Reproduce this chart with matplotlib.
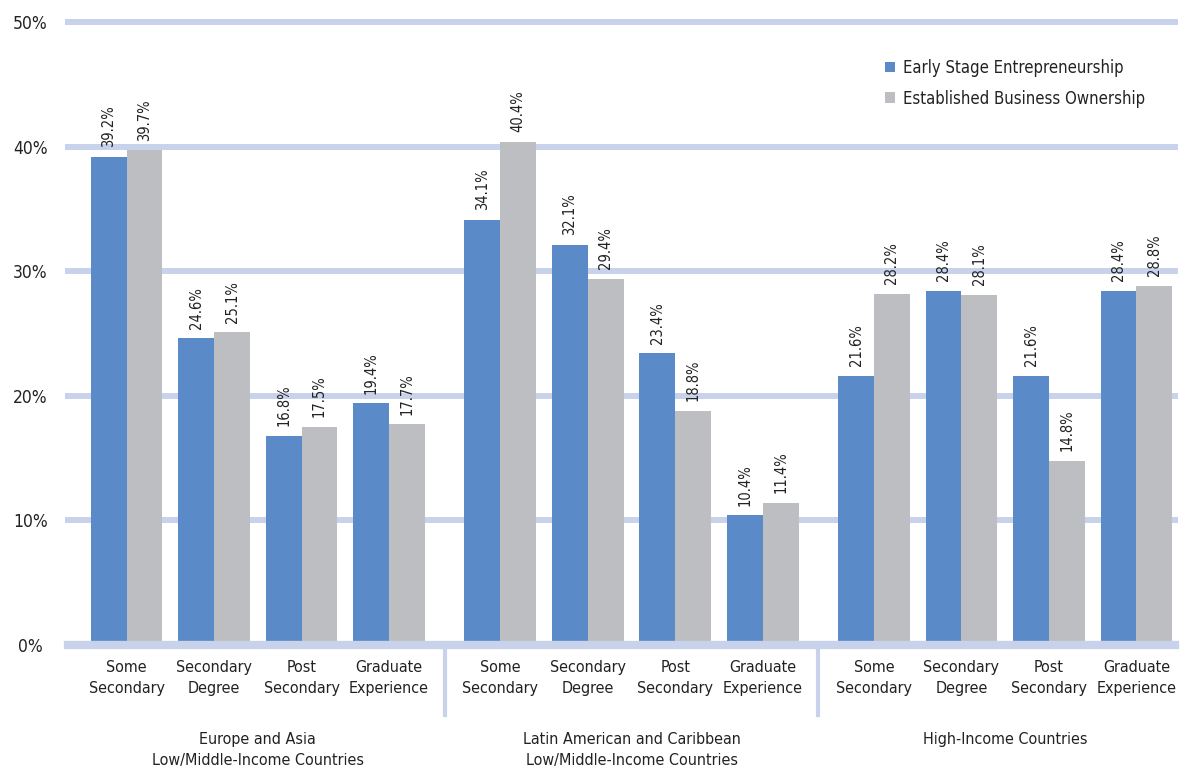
import matplotlib
matplotlib.use("Agg")
import matplotlib.pyplot as plt
from matplotlib.lines import Line2D
import numpy as np

plt.rcParams['font.family'] = ['DejaVu Sans']
plt.rcParams['font.stretch'] = 'condensed'

groups = ["Europe and Asia\nLow/Middle-Income Countries",
          "Latin American and Caribbean\nLow/Middle-Income Countries",
          "High-Income Countries"]
categories = ["Some\nSecondary", "Secondary\nDegree", "Post\nSecondary", "Graduate\nExperience"]
series_names = ["Early Stage Entrepreneurship", "Established Business Ownership"]
early = [39.2, 24.6, 16.8, 19.4,
         34.1, 32.1, 23.4, 10.4,
         21.6, 28.4, 21.6, 28.4]
established = [39.7, 25.1, 17.5, 17.7,
               40.4, 29.4, 18.8, 11.4,
               28.2, 28.1, 14.8, 28.8]
yticks = [0, 10, 20, 30, 40, 50]
ytick_labels = ["0%", "10%", "20%", "30%", "40%", "50%"]

blue = "#5b8ac8"
gray = "#bdbec2"
grid_c = "#c8d2eb"

W, H = 1190, 772
fig = plt.figure(figsize=(W / 100, H / 100), dpi=100)
ax = fig.add_axes([68 / W, 127 / H, (1175 - 68) / W, (645 - 22) / H])

group_step = 4.27
centers = np.array([g * group_step + i for g in range(3) for i in range(4)])
bw = 0.41

for y in yticks[1:]:
    ax.axhline(y, color=grid_c, lw=4.3, zorder=0, clip_on=False)
ax.axhline(0, color=grid_c, lw=6, zorder=3, clip_on=False)

b1 = ax.bar(centers - bw / 2, early, bw, color=blue, zorder=2, label=series_names[0])
b2 = ax.bar(centers + bw / 2, established, bw, color=gray, zorder=2, label=series_names[1])

for rects, vals in ((b1, early), (b2, established)):
    for r, v in zip(rects, vals):
        ax.annotate(f"{v:.1f}%", (r.get_x() + r.get_width() / 2, v),
                    xytext=(0, 7), textcoords="offset points",
                    rotation=90, ha="center", va="bottom", fontsize=10.5,
                    color="#222222", zorder=4)

ax.set_xlim(-0.669, 11.98)
ax.set_ylim(0, 50)
ax.set_yticks(yticks)
ax.set_yticklabels(ytick_labels)
ax.tick_params(axis="y", length=0, pad=27, labelsize=12.5, labelcolor="#222222")
for lbl in ax.get_yticklabels():
    lbl.set_horizontalalignment("center")
ax.set_xticks([])
for s in ax.spines.values():
    s.set_visible(False)

trans = ax.get_xaxis_transform()
for c, lab in zip(centers, categories * 3):
    ax.text(c, -0.024, lab, transform=trans, ha="center", va="top",
            fontsize=11.5, color="#222222", linespacing=1.5)

for g, glab in enumerate(groups):
    mid = g * group_step + 1.5
    ax.text(mid, -0.14, glab, transform=trans, ha="center", va="top",
            fontsize=11.5, color="#222222", linespacing=1.45)

for g in range(2):
    xs = g * group_step + 3 + (group_step - 3) / 2
    ax.add_line(Line2D([xs, xs], [0, -0.113], transform=trans, color=grid_c,
                       lw=3, clip_on=False))

leg = ax.legend(loc="upper left", bbox_to_anchor=(885 / W, (772 - 59) / H),
                bbox_transform=fig.transFigure, frameon=False, fontsize=12,
                handlelength=0.6, handleheight=0.6, handletextpad=0.5,
                labelspacing=0.75, borderpad=0, borderaxespad=0)
for t in leg.get_texts():
    t.set_color("#222222")

fig.savefig("out.png", dpi=100)
